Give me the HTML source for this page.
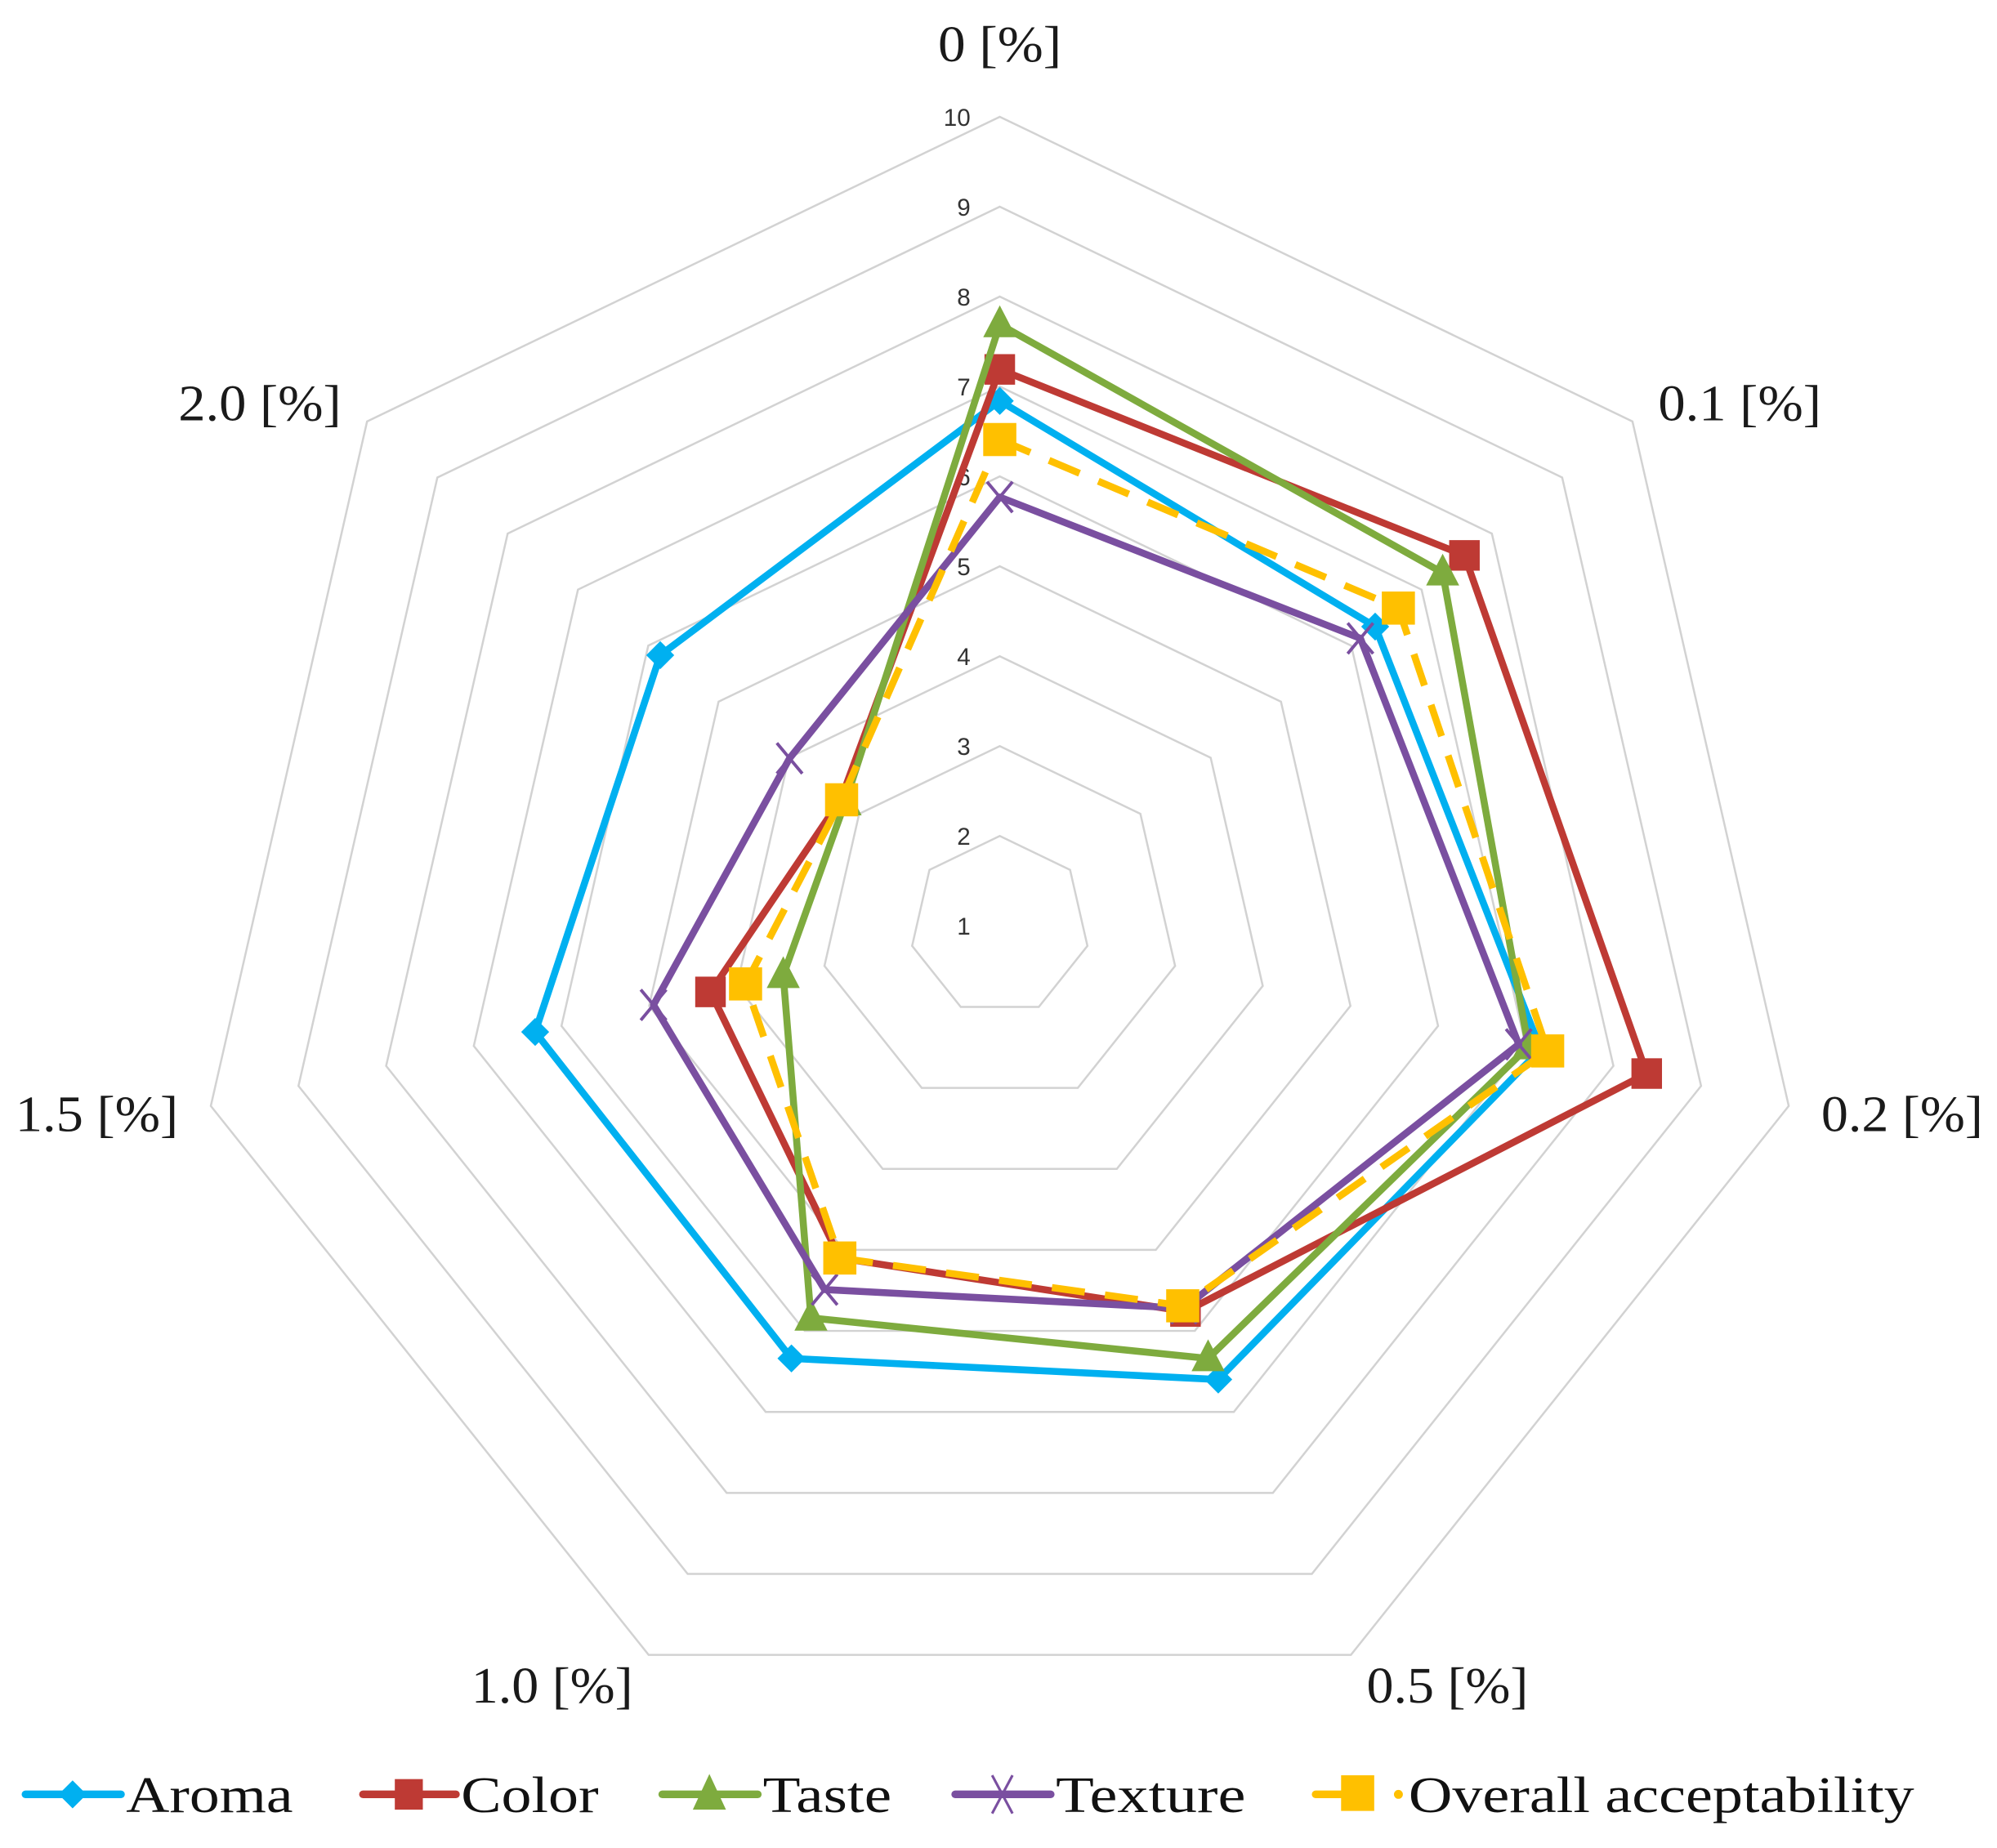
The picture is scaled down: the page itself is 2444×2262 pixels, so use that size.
<!DOCTYPE html>
<html><head><meta charset="utf-8"><style>
html,body{margin:0;padding:0;background:#fff;}
svg{display:block;}
</style></head><body>
<svg id="s" xmlns="http://www.w3.org/2000/svg" width="2444" height="2262" viewBox="0 0 1568 1451">
<rect width="1568" height="1451" fill="#fff"/>
<g id="grid" fill="none" stroke="#d2d2d2" stroke-width="1.6"></g>
<g id="ticks" font-family="Liberation Sans, sans-serif" font-size="19" fill="#333" text-anchor="end"></g>
<g id="series"></g>
<g font-family="Liberation Serif, serif" font-size="40" fill="#1a1a1a">
<text x="785" y="48" text-anchor="middle" textLength="97" lengthAdjust="spacingAndGlyphs">0 [%]</text>
<text x="1302" y="330" textLength="128" lengthAdjust="spacingAndGlyphs">0.1 [%]</text>
<text x="1430" y="888" textLength="127" lengthAdjust="spacingAndGlyphs">0.2 [%]</text>
<text x="1073" y="1337" textLength="127" lengthAdjust="spacingAndGlyphs">0.5 [%]</text>
<text x="370" y="1337" textLength="127" lengthAdjust="spacingAndGlyphs">1.0 [%]</text>
<text x="12" y="888" textLength="128" lengthAdjust="spacingAndGlyphs">1.5 [%]</text>
<text x="140" y="330" textLength="128" lengthAdjust="spacingAndGlyphs">2.0 [%]</text>
</g>
<g id="legend" font-family="Liberation Serif, serif" font-size="40" fill="#111">
<line x1="20" y1="1409" x2="95" y2="1409" stroke="#00B0F0" stroke-width="6" stroke-linecap="round"/>
<polygon points="57,1398 68,1409 57,1420 46,1409" fill="#00B0F0"/>
<text x="99" y="1423" textLength="131" lengthAdjust="spacingAndGlyphs">Aroma</text>
<line x1="285" y1="1409" x2="358" y2="1409" stroke="#BE3A34" stroke-width="6" stroke-linecap="round"/>
<rect x="310" y="1397" width="22" height="24" fill="#BE3A34"/>
<text x="362" y="1423" textLength="108" lengthAdjust="spacingAndGlyphs">Color</text>
<line x1="520" y1="1409" x2="595" y2="1409" stroke="#7EAB3E" stroke-width="6" stroke-linecap="round"/>
<polygon points="557,1393 570,1421 544,1421" fill="#7EAB3E"/>
<text x="599" y="1423" textLength="101" lengthAdjust="spacingAndGlyphs">Taste</text>
<line x1="750" y1="1409" x2="825" y2="1409" stroke="#7A4FA0" stroke-width="6" stroke-linecap="round"/>
<path d="M779,1394 L795,1424 M795,1394 L779,1424" stroke="#7A4FA0" stroke-width="2"/>
<text x="829" y="1423" textLength="149" lengthAdjust="spacingAndGlyphs">Texture</text>
<line x1="1033" y1="1409" x2="1060" y2="1409" stroke="#FFC000" stroke-width="6" stroke-linecap="round"/>
<rect x="1053" y="1394" width="26" height="28" fill="#FFC000"/>
<circle cx="1098" cy="1409" r="3.5" fill="#FFC000"/>
<text x="1106" y="1423" textLength="397" lengthAdjust="spacingAndGlyphs">Overall acceptability</text>
</g>
</svg>
<script>
(function(){
var NS="http://www.w3.org/2000/svg",cx=785,cy=727,u=70.6;
function pt(k,v){var a=k*2*Math.PI/7,r=(v-1)*u;return [cx+r*Math.sin(a),cy-r*Math.cos(a)];}
function el(t,at,p){var e=document.createElementNS(NS,t);for(var k in at)e.setAttribute(k,at[k]);p.appendChild(e);return e;}
var g=document.getElementById('grid'),tk=document.getElementById('ticks');
for(var v=2;v<=10;v++){var ps=[];for(var k=0;k<7;k++)ps.push(pt(k,v).join(','));el('polygon',{points:ps.join(' ')},g);}
for(var v=1;v<=10;v++){var t=el('text',{x:762,y:cy-(v-1)*u+7},tk);t.textContent=v;}
var S=[
{c:'#00B0F0',d:[6.84,6.34,7.17,6.6,6.34,6.3,5.83],m:'dia'},
{c:'#BE3A34',d:[7.19,7.61,8.38,5.76,5.1,4.3,3.26],m:'sq'},
{c:'#7EAB3E',d:[7.69,7.3,7.03,6.34,5.84,3.47,3.2],m:'tri'},
{c:'#7A4FA0',d:[5.77,6.13,6.92,5.72,5.49,4.95,3.99],m:'x'},
{c:'#FFC000',d:[6.41,6.67,7.25,5.69,5.1,3.9,3.25],m:'sq2',dash:'26,16'}];
var sg=document.getElementById('series');
S.forEach(function(s){
 var ps=s.d.map(function(v,k){return pt(k,v);});
 var at={points:ps.map(function(p){return p.join(',');}).join(' '),fill:'none',stroke:s.c,'stroke-width':5.5,'stroke-linejoin':'round'};
 if(s.dash)at['stroke-dasharray']=s.dash;
 el('polygon',at,sg);
 ps.forEach(function(p){var x=p[0],y=p[1];
  if(s.m=='dia')el('polygon',{points:[x,y-11,x+11,y,x,y+11,x-11,y].join(','),fill:s.c},sg);
  else if(s.m=='sq')el('rect',{x:x-12,y:y-12,width:24,height:24,fill:s.c},sg);
  else if(s.m=='sq2')el('rect',{x:x-13,y:y-13,width:26,height:26,fill:s.c},sg);
  else if(s.m=='tri')el('polygon',{points:[x,y-15,x+13,y+10,x-13,y+10].join(','),fill:s.c},sg);
  else el('path',{d:'M'+(x-10)+','+(y-12)+'L'+(x+10)+','+(y+12)+'M'+(x+10)+','+(y-12)+'L'+(x-10)+','+(y+12),stroke:s.c,'stroke-width':2.5},sg);
 });
});
})();
</script>
</body></html>
